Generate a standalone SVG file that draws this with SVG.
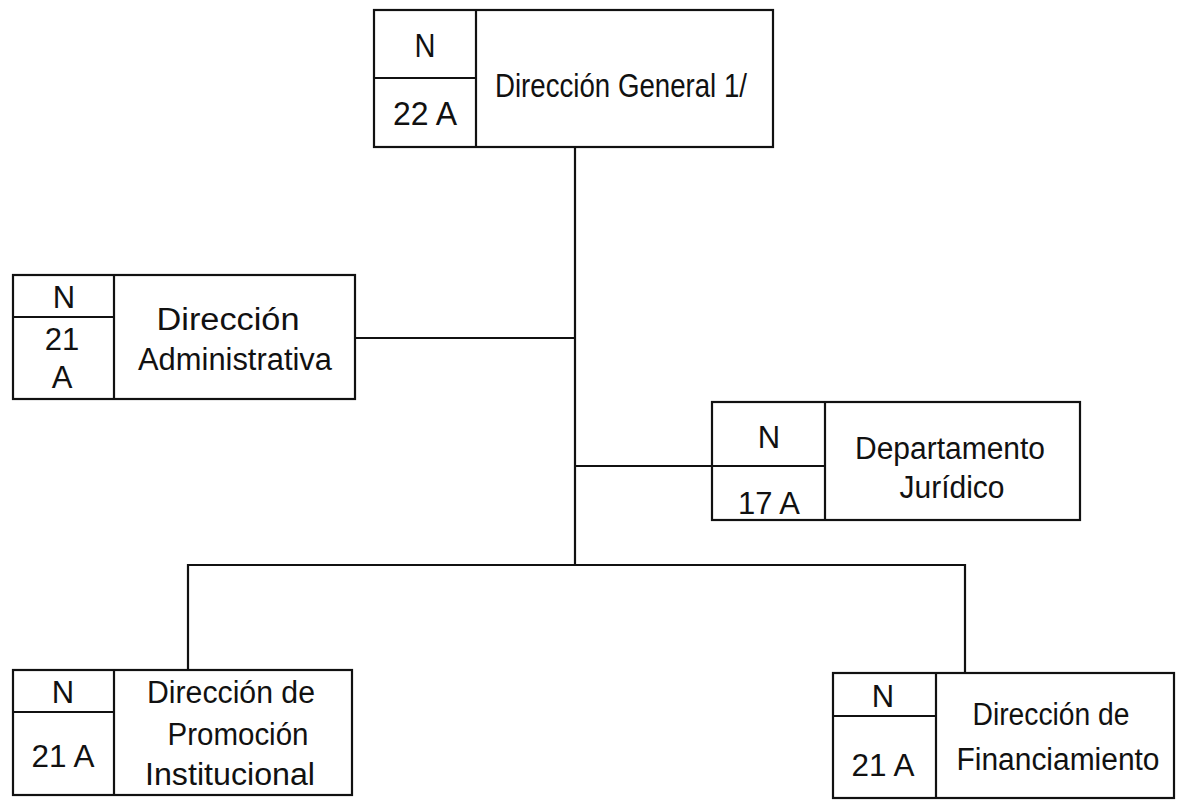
<svg xmlns="http://www.w3.org/2000/svg" width="1184" height="800" viewBox="0 0 1184 800">
<style>
.box{fill:#fff;stroke:#111;stroke-width:2.2}
.ln{fill:none;stroke:#111;stroke-width:2.2}
text{font-family:"Liberation Sans",Arial,sans-serif;font-size:31px;fill:#111;text-anchor:middle}
.big{font-size:34px}
</style>
<rect width="1184" height="800" fill="#fff"/>
<g id="connectors">
<path class="ln" d="M575 147V565"/>
<path class="ln" d="M355 338H575"/>
<path class="ln" d="M575 466H712"/>
<path class="ln" d="M188 670V565H965V673"/>
</g>
<g id="n-general">
<rect class="box" x="374" y="10" width="399" height="137"/>
<path class="ln" d="M476 10V147M374 78H476"/>
<text class="big" x="425" y="57" textLength="21" lengthAdjust="spacingAndGlyphs">N</text>
<text class="big" x="425" y="125" textLength="64" lengthAdjust="spacingAndGlyphs">22 A</text>
<text class="big" x="621" y="97" textLength="252" lengthAdjust="spacingAndGlyphs">Dirección General 1/</text>
</g>
<g id="n-admin">
<rect class="box" x="13" y="275" width="342" height="124"/>
<path class="ln" d="M114 275V399M13 317H114"/>
<text x="64" y="308">N</text>
<text x="62" y="350">21</text>
<text x="62" y="388">A</text>
<text x="228" y="330" textLength="143" lengthAdjust="spacingAndGlyphs">Dirección</text>
<text x="235" y="370" textLength="194" lengthAdjust="spacingAndGlyphs">Administrativa</text>
</g>
<g id="n-juridico">
<rect class="box" x="712" y="402" width="368" height="118"/>
<path class="ln" d="M825 402V520M712 466H825"/>
<text x="769" y="448">N</text>
<text x="769" y="514" textLength="62" lengthAdjust="spacingAndGlyphs">17 A</text>
<text x="950" y="459" textLength="190" lengthAdjust="spacingAndGlyphs">Departamento</text>
<text x="952" y="498" textLength="105" lengthAdjust="spacingAndGlyphs">Jurídico</text>
</g>
<g id="n-promocion">
<rect class="box" x="13" y="670" width="339" height="125"/>
<path class="ln" d="M114 670V795M13 712H114"/>
<text x="63" y="703">N</text>
<text x="63" y="767" textLength="63" lengthAdjust="spacingAndGlyphs">21 A</text>
<text x="231" y="703" textLength="168" lengthAdjust="spacingAndGlyphs">Dirección de</text>
<text x="238" y="745" textLength="141" lengthAdjust="spacingAndGlyphs">Promoción</text>
<text x="230" y="785" textLength="170" lengthAdjust="spacingAndGlyphs">Institucional</text>
</g>
<g id="n-financiamiento">
<rect class="box" x="833" y="673" width="341" height="125"/>
<path class="ln" d="M936 673V798M833 716H936"/>
<text x="883" y="707">N</text>
<text x="883" y="776" textLength="63" lengthAdjust="spacingAndGlyphs">21 A</text>
<text x="1051" y="725" textLength="157" lengthAdjust="spacingAndGlyphs">Dirección de</text>
<text x="1058" y="770" textLength="203" lengthAdjust="spacingAndGlyphs">Financiamiento</text>
</g>
</svg>
